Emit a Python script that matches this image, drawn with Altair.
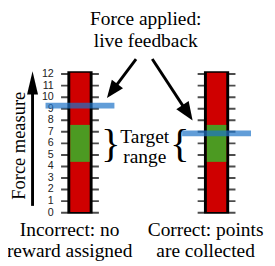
import altair as alt
import pandas as pd

# ---- data ----
panel_pos = [1, 2]
panel_names = ["Incorrect", "Correct"]
caption_lines = [["Incorrect: no", "reward assigned"], ["Correct: points", "are collected"]]
force_ticks = list(range(0, 13))
scale_range = [0, 12]
target_range = [4.4, 7.6]
applied_force = [9.27, 6.86]
title_lines = ["Force applied:", "live feedback"]
axis_title = "Force measure"
target_lines = ["Target", "range"]

# ---- layout (chart units: x = panel units, y = force units) ----
X_DOMAIN = [0.473, 2.3693]
Y_DOMAIN = [-4.284, 17.388]
W, H = 267, 258

xs = alt.Scale(domain=X_DOMAIN, nice=False, zero=False, padding=0)
ys = alt.Scale(domain=Y_DOMAIN, nice=False, zero=False, padding=0)
X = lambda f="x": alt.X(f"{f}:Q", scale=xs, axis=None)
Y = lambda f="y": alt.Y(f"{f}:Q", scale=ys, axis=None)

RED, GREEN, BLUE = "#cf0000", "#4c9a22", "#1e73c8"
SERIF = "Liberation Serif"

# bars
frame = pd.DataFrame({"x": panel_pos, "lo": [scale_range[0] - 0.08] * 2, "hi": [scale_range[1] + 0.24] * 2})
fill = pd.DataFrame({"x": panel_pos, "lo": [scale_range[0] + 0.06] * 2, "hi": [scale_range[1] + 0.12] * 2})
target = pd.DataFrame({"x": panel_pos, "lo": [target_range[0]] * 2, "hi": [target_range[1]] * 2})
ticks = pd.DataFrame([{"x": p, "y": t} for p in panel_pos for t in force_ticks])
labels = pd.DataFrame({"x": [panel_pos[0]] * len(force_ticks), "y": force_ticks, "t": [str(t) for t in force_ticks]})
feedback = pd.DataFrame({"x": panel_pos, "y": applied_force})

tick_layer = alt.Chart(ticks).mark_tick(orient="horizontal", size=39, thickness=2, color="black").encode(x=X(), y=Y())
frame_layer = alt.Chart(frame).mark_bar(size=26, color="black").encode(x=X(), y=Y("lo"), y2="hi")
fill_layer = alt.Chart(fill).mark_bar(size=20, color=RED).encode(x=X(), y=Y("lo"), y2="hi")
target_layer = alt.Chart(target).mark_bar(size=20, color=GREEN).encode(x=X(), y=Y("lo"), y2="hi")
label_layer = alt.Chart(labels).mark_text(align="right", baseline="middle", dx=-27, fontSize=11,
                                          font="Liberation Sans", color="#222").encode(x=X(), y=Y(), text="t:N")
feedback_layer = alt.Chart(feedback).mark_tick(orient="horizontal", size=71, thickness=6, color=BLUE).encode(x=X(), y=Y())

# arrows
arrow_lines = pd.DataFrame({
    "x": [0.6527, 1.4105, 1.5291], "x2": [0.6527, 1.2358, 1.7876],
    "y": [0.588, 13.30, 13.30], "y2": [10.6, 10.54, 8.643]})
arrow_line_layer = alt.Chart(arrow_lines).mark_rule(strokeWidth=3, color="black").encode(
    x=X(), x2="x2", y=Y(), y2="y2")
heads = pd.DataFrame({"x": [0.6527, 1.2358, 1.7876], "y": [11.23, 10.54, 8.643],
                      "a": [0, 216.9, 146.7], "s": [576, 324, 361]})
head_layer1 = alt.Chart(heads.iloc[:1]).mark_point(shape="M0,-1L0.47,1L-0.47,1Z", filled=True, opacity=1,
                                                   color="black", strokeWidth=0).encode(
    x=X(), y=Y(), angle=alt.Angle("a:Q", scale=None), size=alt.Size("s:Q", scale=None))
head_layer2 = alt.Chart(heads.iloc[1:]).mark_point(shape="M0,-1L0.8,1L-0.8,1Z", filled=True, opacity=1,
                                                   color="black", strokeWidth=0).encode(
    x=X(), y=Y(), angle=alt.Angle("a:Q", scale=None), size=alt.Size("s:Q", scale=None))

# texts
texts = pd.DataFrame({
    "x": [1.4815, 1.4815, 1.4744, 1.4744, 0.924, 0.924, 1.9197, 1.9197],
    "y": [16.22, 14.35, 6.048, 4.284, -2.041, -3.864, -2.041, -3.864],
    "t": title_lines + target_lines + caption_lines[0] + caption_lines[1]})
text_layer = alt.Chart(texts).mark_text(font=SERIF, fontSize=20, align="center", baseline="alphabetic",
                                        color="black").encode(x=X(), y=Y(), text="t:N")
ytitle = pd.DataFrame({"x": [0.5973], "y": [5.796], "t": [axis_title]})
ytitle_layer = alt.Chart(ytitle).mark_text(font=SERIF, fontSize=19, align="center", baseline="alphabetic",
                                           angle=270, color="black").encode(x=X(), y=Y(), text="t:N")
braces = pd.DataFrame({"x": [1.2259, 1.7301], "y": [5.9, 5.9], "t": ["}", "{"]})
brace_layer = alt.Chart(braces).mark_text(font=SERIF, fontSize=42, align="center", baseline="middle",
                                          color="black").encode(x=X(), y=Y(), text="t:N")

chart = alt.layer(
    tick_layer, frame_layer, fill_layer, target_layer, label_layer, feedback_layer,
    arrow_line_layer, head_layer1, head_layer2, text_layer, ytitle_layer, brace_layer
).properties(width=W, height=H, padding=0, autosize="none", background="white"
).configure_view(stroke=None)

chart.save("out.html", embed_options={"renderer": "svg", "actions": False})
